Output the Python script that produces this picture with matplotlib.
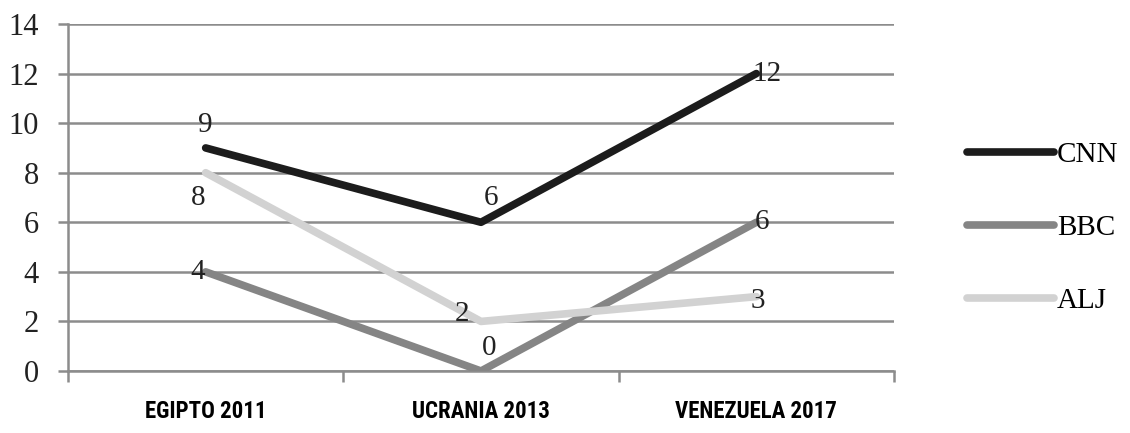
import matplotlib.pyplot as plt

# Datos
eventos = ["EGIPTO 2011", "UCRANIA 2013", "VENEZUELA 2017"]
cnn = [9, 6, 12]
bbc = [4, 0, 6]
alj = [8, 2, 3]

# desplazamiento de etiquetas (px) respecto al punto: (dx, dy)
series = [
    ("CNN", cnn, "#1c1c1c", [(0, 23), (10, 24), (11, 0)]),
    ("BBC", bbc, "#858585", [(-8, 0), (8, 23), (6, 0)]),
    ("ALJ", alj, "#d2d2d2", [(-7, -25), (-19, 7), (1, -4)]),
]

fig = plt.figure(figsize=(11.3, 4.33), dpi=100)
ax = fig.add_axes([68 / 1130, 62 / 433, 826 / 1130, 347 / 433])

x = list(range(len(eventos)))
for nombre, valores, color, offs in series:
    ax.plot(x, valores, color=color, lw=5.5, solid_capstyle="round", label=nombre, zorder=3)
    for xi, v, (dx, dy) in zip(x, valores, offs):
        ax.annotate(str(v), (xi, v), xytext=(dx * 0.72, dy * 0.72), textcoords="offset points",
                    ha="center", va="center", fontsize=21, family="Liberation Serif",
                    color="#222222", zorder=4)

ax.set_xlim(-0.5, 2.5)
ax.set_ylim(0, 14)
ax.set_yticks(range(0, 15, 2))
ax.yaxis.grid(True, color="#8c8c8c", lw=1.8)
ax.set_axisbelow(True)

for s in ["top", "right"]:
    ax.spines[s].set_visible(False)
for s in ["left", "bottom"]:
    ax.spines[s].set_color("#8c8c8c")
    ax.spines[s].set_linewidth(1.8)

ax.tick_params(axis="y", length=7, width=1.8, color="#8c8c8c", pad=14)
for lab in ax.get_yticklabels():
    lab.set_family("Liberation Serif")
    lab.set_fontsize(22)
    lab.set_color("#222222")

# ticks de separación entre categorías en el eje x
ax.set_xticks([-0.5, 0.5, 1.5, 2.5])
ax.set_xticklabels([])
ax.tick_params(axis="x", length=8, width=1.8, color="#8c8c8c")
ax.set_xticks(x, minor=True)
ax.set_xticklabels(eventos, minor=True, fontsize=16.5, fontweight="bold", fontstretch="condensed",
                   family=["Roboto Condensed", "Liberation Sans Narrow", "Roboto"])
ax.tick_params(axis="x", which="minor", length=0, pad=21)

fig.legend(loc="center left", bbox_to_anchor=(952 / 1130, 1 - 228 / 433), frameon=False,
           handlelength=3.0, handletextpad=0.1, labelspacing=1.6,
           prop={"family": "Liberation Serif", "size": 21}, borderpad=0)

fig.savefig("out.png", dpi=100)
